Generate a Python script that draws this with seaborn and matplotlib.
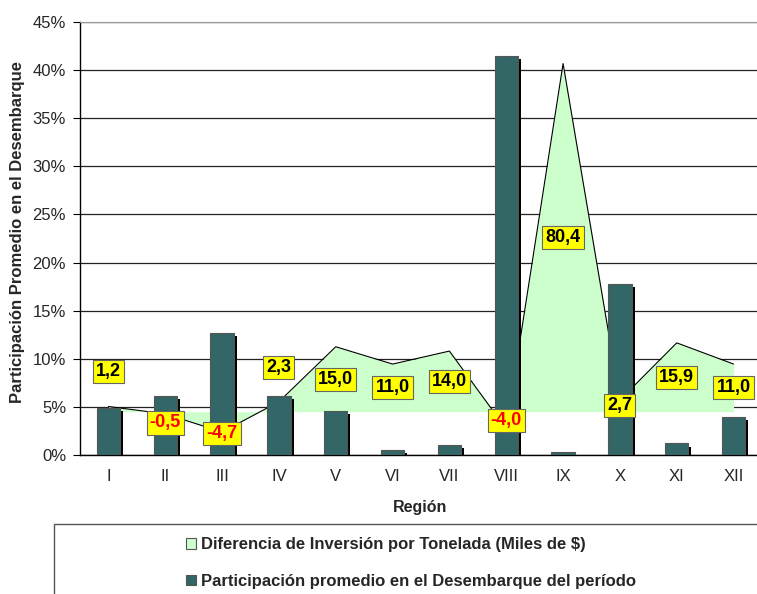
import seaborn as sns
import matplotlib.pyplot as plt
import matplotlib.patheffects as pe
from matplotlib.patches import Patch, Rectangle
from matplotlib.ticker import PercentFormatter, FixedLocator
from matplotlib.transforms import blended_transform_factory

regions = ["I", "II", "III", "IV", "V", "VI", "VII", "VIII", "IX", "X", "XI", "XII"]
participacion = [4.9, 6.1, 12.7, 6.1, 4.6, 0.5, 1.0, 41.5, 0.3, 17.8, 1.2, 4.0]
diferencia = [1.2, -0.5, -4.7, 2.3, 15.0, 11.0, 14.0, -4.0, 80.4, 2.7, 15.9, 11.0]

# labels moved by hand in the original (secondary axis units)
label_y_override = {0: 9.3, 1: -2.6, 2: -5.0, 3: 10.2}

BAR = "#336666"
AREA = "#CCFFCC"

sns.set_style("white")
plt.rcParams["font.family"] = ["Liberation Sans", "DejaVu Sans"]

fig = plt.figure(figsize=(7.57, 5.94), dpi=100)
ax = fig.add_axes([80 / 757, 139 / 594, 682 / 757, 433 / 594])
ax2 = ax.twinx()
# area behind the bars
ax.set_zorder(2)
ax2.set_zorder(1)
ax.patch.set_visible(False)
ax2.patch.set_facecolor("#E0E0E0")

pos = list(range(len(regions)))

# gridlines on the area axes so the area covers them
gtrans = blended_transform_factory(ax2.transAxes, ax.transData)
for g in range(0, 50, 5):
    ax2.plot([0, 1], [g, g], transform=gtrans, color="#222222", lw=0.9, zorder=0)

ax2.fill_between(pos, 0, diferencia, color=AREA, lw=0, zorder=1)
sns.lineplot(x=pos, y=diferencia, ax=ax2, color="black", lw=0.8, zorder=2)
ax2.set_ylim(-10, 90)
ax2.set_yticks([])
for s in ax2.spines.values():
    s.set_visible(False)

sns.barplot(x=regions, y=participacion, color=BAR, width=0.41, ax=ax,
            edgecolor="#555555", linewidth=0.8, saturation=1, zorder=3)
for p in ax.patches:
    p.set_path_effects([pe.SimplePatchShadow(offset=(2.2, -2.2), shadow_rgbFace="black", alpha=1),
                        pe.Normal()])

# data labels on top of everything, placed in area units
for i, v in enumerate(diferencia):
    ly = label_y_override.get(i, v / 2)
    ax.text(i, ly, f"{v:.1f}".replace(".", ","), transform=ax2.transData,
            ha="center", va="center", fontsize=13, fontweight="bold",
            color="red" if v < 0 else "black",
            bbox=dict(boxstyle="square,pad=0.17", fc="#FFFF00", ec="#666666", lw=0.8),
            zorder=5)

ax.set_xlim(-0.5, 11.5)
ax.set_ylim(0, 45)
ax.set_yticks(range(0, 50, 5))
ax.yaxis.set_major_formatter(PercentFormatter(xmax=100, decimals=0))
ax.xaxis.set_minor_locator(FixedLocator([k - 0.5 for k in range(13)]))
ax.tick_params(axis="x", which="major", length=0, pad=10, labelsize=12)
ax.tick_params(axis="x", which="minor", length=5, width=0.8, color="black", direction="out")
ax.tick_params(axis="y", length=5, width=0.8, color="black", pad=5, labelsize=12, direction="out",
               left=True)
for s in ["left", "bottom"]:
    ax.spines[s].set_color("black")
    ax.spines[s].set_linewidth(1)
ax.spines["top"].set_color("#999999")
ax.spines["right"].set_visible(False)

ax.set_xlabel("Región", fontsize=11.5, fontweight="bold")
ax.xaxis.set_label_coords(0.4985, -0.103)
ax.set_ylabel("Participación Promedio en el Desembarque", fontsize=12, fontweight="bold")
ax.yaxis.set_label_coords(-0.0806, 0.515)

# legend box running off the figure
fig.patches.append(Rectangle((54 / 757, -0.1), 1.0, 0.1 + 70 / 594, transform=fig.transFigure,
                             fill=False, ec="#555555", lw=1))
handles = [Patch(facecolor=AREA, edgecolor="#555555", lw=0.8),
           Patch(facecolor=BAR, edgecolor="#555555", lw=0.8)]
labels = ["Diferencia de Inversión por Tonelada (Miles de $)",
          "Participación promedio en el Desembarque del período"]
fig.legend(handles, labels, loc="upper left", bbox_to_anchor=(178 / 757, 65 / 594),
           frameon=False, borderpad=0, handlelength=0.6, handleheight=0.6,
           handletextpad=0.3, labelspacing=1.3, prop={"weight": "bold", "size": 12})

fig.savefig("out.png", dpi=100)
